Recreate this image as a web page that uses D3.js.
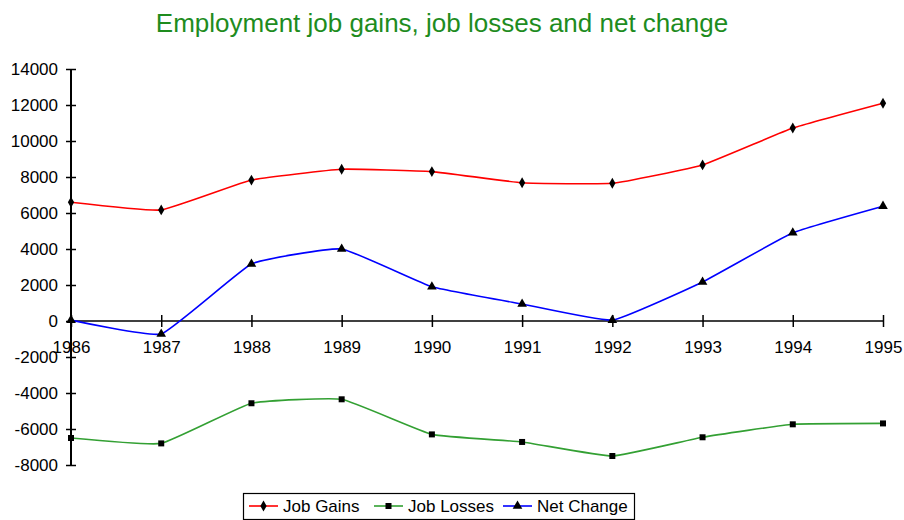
<!DOCTYPE html>
<html>
<head>
<meta charset="utf-8">
<script src="https://cdn.jsdelivr.net/npm/d3@7"></script>
<style>
  html, body { margin: 0; padding: 0; background: #fff; }
  svg { display: block; font-family: "Liberation Sans", Arial, sans-serif; }
</style>
</head>
<body>
<svg id="chart" width="904" height="520"></svg>
<script>
const years = ["1986","1987","1988","1989","1990","1991","1992","1993","1994","1995"];
const jobGains  = [6600, 6170, 7830, 8430, 8300, 7680, 7650, 8670, 10720, 12100];
const jobLosses = [-6500, -6800, -4570, -4350, -6300, -6720, -7500, -6460, -5740, -5690];
const netChange = [50, -720, 3170, 4000, 1900, 940, 50, 2170, 4900, 6380];
const yTicks = [-8000, -6000, -4000, -2000, 0, 2000, 4000, 6000, 8000, 10000, 12000, 14000];
const seriesNames = ["Job Gains", "Job Losses", "Net Change"];
const title = "Employment job gains, job losses and net change";

const series = [
  { name: seriesNames[0], values: jobGains,  color: "#ff0000", symbol: d3.symbolDiamond, size: 34 },
  { name: seriesNames[1], values: jobLosses, color: "#33a033", symbol: d3.symbolSquare,  size: 36 },
  { name: seriesNames[2], values: netChange, color: "#0000ff", symbol: d3.symbolTriangle, size: 40 }
];

const svg = d3.select("#chart");
const x = d3.scalePoint().domain(years).range([71, 883]);
const y = d3.scaleLinear().domain([-8000, 14000]).range([465, 69]);

// Title
svg.append("text")
  .attr("x", 442).attr("y", 32)
  .attr("text-anchor", "middle")
  .attr("fill", "#1e8c1e")
  .style("font-size", "26px")
  .text(title);

// Y axis
const yAxis = svg.append("g")
  .attr("transform", `translate(${x(years[0])},0)`)
  .call(d3.axisLeft(y).tickValues(yTicks).tickFormat(d => String(d)).tickSize(5).tickPadding(8));
yAxis.select(".domain").attr("stroke", "#000").attr("stroke-width", 2).attr("d", `M0,${y(14000)}V${y(-8000)}`);
yAxis.selectAll(".tick line").attr("x1", 5).attr("x2", -5).attr("stroke", "#000").attr("stroke-width", 1.5);
yAxis.selectAll(".tick text").style("font-size", "17px").attr("fill", "#000");

// X axis at zero
const xAxis = svg.append("g")
  .attr("transform", `translate(0,${y(0)})`)
  .call(d3.axisBottom(x).tickSize(6).tickPadding(14));
xAxis.select(".domain").attr("stroke", "#000").attr("stroke-width", 1.5).attr("d", `M${x(years[0])},0H${x(years[years.length-1])}`);
xAxis.selectAll(".tick line").attr("y1", -6).attr("y2", 6).attr("stroke", "#000").attr("stroke-width", 1.5);
xAxis.selectAll(".tick text").style("font-size", "17px").attr("fill", "#000");

// Lines (lightly smoothed)
const line = d3.line()
  .x((d, i) => x(years[i]))
  .y(d => y(d))
  .curve(d3.curveCardinal.tension(0.65));

series.forEach(s => {
  svg.append("path")
    .datum(s.values)
    .attr("fill", "none")
    .attr("stroke", s.color)
    .attr("stroke-width", 1.6)
    .attr("d", line);
});
series.forEach(s => {
  svg.append("g").selectAll("path")
    .data(s.values)
    .join("path")
    .attr("transform", (d, i) => `translate(${x(years[i])},${y(d)})`)
    .attr("d", d3.symbol().type(s.symbol).size(s.size))
    .attr("fill", "#000");
});

// Legend
const legend = svg.append("g");
legend.append("rect")
  .attr("x", 243.5).attr("y", 493.5).attr("width", 391).attr("height", 26)
  .attr("fill", "#fff").attr("stroke", "#000").attr("stroke-width", 1.2);
const legendX = [249, 374, 503];
series.forEach((s, i) => {
  const g = legend.append("g").attr("transform", `translate(${legendX[i]},506)`);
  g.append("line").attr("x1", 0).attr("x2", 29).attr("stroke", s.color).attr("stroke-width", 1.6);
  g.append("path").attr("transform", "translate(14.5,0)")
    .attr("d", d3.symbol().type(s.symbol).size(s.size)).attr("fill", "#000");
  g.append("text").attr("x", 34).attr("y", 0).attr("dy", "0.35em")
    .style("font-size", "17px").attr("fill", "#000").text(s.name);
});
</script>
</body>
</html>
